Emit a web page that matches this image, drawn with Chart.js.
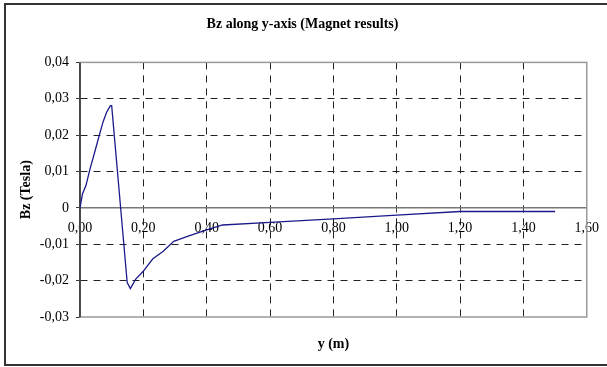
<!DOCTYPE html>
<html>
<head>
    <title>Bz along y-axis</title>
    <script src="https://cdn.jsdelivr.net/npm/chart.js"></script>
    <style>
        body { margin: 0; background: #fff; }
        .wrap { position: relative; width: 607px; height: 367px; }
        .frame {
            position: absolute; left: 4px; top: 3px; width: 610px; height: 359px;
            border: 2px solid #333; pointer-events: none;
        }
    </style>
</head>
<body>
    <div class="wrap">
        <canvas id="bzChart" width="607" height="367"></canvas>
        <div class="frame"></div>
    </div>

    <script>
        // values
        const yPos = [0, 0.008, 0.019, 0.031, 0.047, 0.061, 0.073, 0.084, 0.096, 0.100,
                      0.149, 0.159, 0.176, 0.199, 0.230, 0.262, 0.296, 0.346, 0.398, 0.450,
                      0.600, 0.800, 1.000, 1.200, 1.500];
        const bzTesla = [0, 0.0039, 0.0062, 0.0105, 0.0155, 0.0200, 0.0237, 0.0263, 0.0281, 0.0281,
                         -0.0205, -0.0222, -0.0196, -0.0175, -0.0140, -0.0120, -0.0092, -0.0076, -0.0061, -0.0047,
                         -0.0040, -0.0030, -0.0020, -0.0010, -0.0010];
        const xTicks = [0, 0.2, 0.4, 0.6, 0.8, 1.0, 1.2, 1.4, 1.6];
        const yTicks = [-0.03, -0.02, -0.01, 0, 0.01, 0.02, 0.03, 0.04];

        const serif = 'Liberation Serif';
        const comma = v => v.toFixed(2).replace('.', ',');

        // light grey frame round the plot area
        const plotBorder = {
            id: 'plotBorder',
            beforeDatasetsDraw(chart) {
                const a = chart.chartArea, c = chart.ctx;
                c.save();
                c.strokeStyle = '#999';
                c.lineWidth = 1.5;
                c.strokeRect(a.left, a.top, a.right - a.left, a.bottom - a.top);
                c.restore();
                // y axis line on top again
                c.save();
                c.strokeStyle = '#333';
                c.lineWidth = 1.5;
                c.beginPath();
                c.moveTo(a.left, a.top);
                c.lineTo(a.left, a.bottom);
                c.stroke();
                c.restore();
            }
        };

        const ctx = document.getElementById('bzChart').getContext('2d');
        const chart = new Chart(ctx, {
            type: 'line',
            data: {
                datasets: [{
                    data: yPos.map((x, i) => ({x: x, y: bzTesla[i]})),
                    borderColor: '#1a1a8a',
                    borderWidth: 1.3,
                    pointRadius: 0,
                    tension: 0,
                    fill: false
                }]
            },
            options: {
                responsive: false,
                animation: false,
                layout: { padding: { left: 16, right: 18, top: 0, bottom: 0 } },
                plugins: {
                    legend: { display: false },
                    tooltip: { enabled: false },
                    title: {
                        display: true,
                        text: 'Bz along y-axis (Magnet results)',
                        color: '#000',
                        font: { family: serif, size: 14, weight: 'bold' },
                        padding: { top: 15.6, bottom: 30 }
                    },
                    subtitle: {
                        display: true,
                        position: 'bottom',
                        fullSize: false,
                        text: 'y (m)',
                        color: '#000',
                        font: { family: serif, size: 14, weight: 'bold' },
                        padding: { top: 18.6, bottom: 14.6 }
                    }
                },
                scales: {
                    x: {
                        type: 'linear',
                        position: { y: 0 },
                        min: 0,
                        max: 1.6,
                        afterBuildTicks: s => { s.ticks = xTicks.map(v => ({value: v})); },
                        ticks: {
                            color: '#000',
                            font: { family: serif, size: 14 },
                            padding: 8,
                            maxRotation: 0,
                            callback: v => comma(v)
                        },
                        grid: {
                            color: c => (c.tick && (c.tick.value === 0 || c.tick.value === 1.6)) ? 'rgba(0,0,0,0)' : '#222',
                            lineWidth: 1,
                            tickColor: '#444',
                            tickLength: 4
                        },
                        border: { display: true, color: '#777', width: 1.5, dash: [7, 6] }
                    },
                    y: {
                        min: -0.03,
                        max: 0.04,
                        afterBuildTicks: s => { s.ticks = yTicks.map(v => ({value: v})); },
                        afterFit: s => { s.width = 64; },
                        ticks: {
                            color: '#000',
                            font: { family: serif, size: 14 },
                            padding: 7,
                            callback: v => Math.abs(v) < 1e-9 ? '0' : comma(v)
                        },
                        grid: {
                            color: c => (c.tick && (Math.abs(c.tick.value) < 1e-9 || c.tick.value === 0.04 || c.tick.value === -0.03)) ? 'rgba(0,0,0,0)' : '#222',
                            lineWidth: 1,
                            tickColor: '#333',
                            tickLength: 4
                        },
                        border: { display: true, color: '#333', width: 1.5, dash: [7, 6] },
                        title: {
                            display: true,
                            text: 'Bz (Tesla)',
                            color: '#000',
                            font: { family: serif, size: 14, weight: 'bold' },
                            padding: { top: 2, bottom: 0 }
                        }
                    }
                }
            },
            plugins: [plotBorder]
        });
    </script>
</body>
</html>
